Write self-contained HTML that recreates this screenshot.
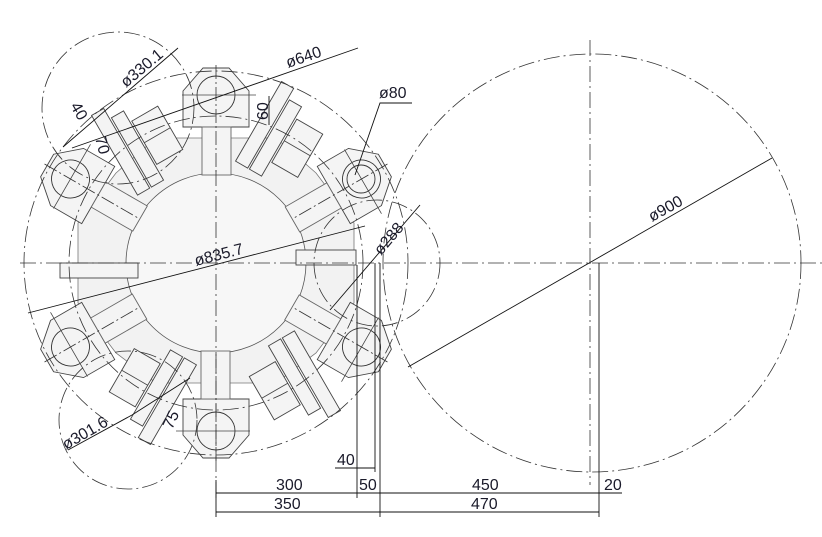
<!DOCTYPE html>
<html><head><meta charset="utf-8"><style>
html,body{margin:0;padding:0;background:#fff}
svg{display:block}
text{font-family:"Liberation Sans","DejaVu Sans",sans-serif;font-size:16px;fill:#1a1a2a}
</style></head><body>
<svg width="822" height="537" viewBox="0 0 822 537" xmlns="http://www.w3.org/2000/svg">
<defs>
<g id="st">
  <polygon points="-13,-195 13,-195 33,-172 33,-136 -33,-136 -33,-172" fill="#f4f4f4" stroke="#444" stroke-width="0.9"/>
  <rect x="-14" y="-136" width="29" height="48" fill="#f4f4f4" stroke="#666" stroke-width="0.9"/>
  <circle cx="0" cy="-168" r="19" fill="none" stroke="#333" stroke-width="0.9"/>
  <line x1="-34" y1="-168" x2="40" y2="-168" stroke="#444" stroke-width="0.8"/>
  <line x1="0" y1="-198" x2="0" y2="-88" stroke="#333" stroke-width="0.8" stroke-dasharray="14,3,2,3"/>
</g>
<g id="blk">
  <rect x="-34" y="-190" width="14" height="92" fill="#f4f4f4" stroke="#444" stroke-width="0.9"/>
  <rect x="-18" y="-178" width="14" height="80" fill="#f4f4f4" stroke="#444" stroke-width="0.9"/>
  <rect x="-2" y="-165" width="30" height="50" fill="#f4f4f4" stroke="#444" stroke-width="0.9"/>
  <line x1="-2" y1="-140" x2="28" y2="-140" stroke="#444" stroke-width="0.8"/>
</g>
</defs>
<g transform="translate(216,263)">
  <polygon points="-138,-40 -100,-90 -60,-125 60,-125 100,-90 138,-40 138,40 100,90 60,120 -60,120 -100,90 -138,40" fill="#f2f2f2" stroke="#777" stroke-width="0.8"/>
  <circle r="90" fill="#f7f7f7" stroke="#555" stroke-width="0.8"/>
</g>
<g fill="none">
<use href="#blk" transform="rotate(30 216 263) translate(216 263)"/>
<use href="#blk" transform="rotate(150 216 263) translate(216 263)"/>
<use href="#blk" transform="rotate(210 216 263) translate(216 263)"/>
<use href="#blk" transform="rotate(330 216 263) translate(216 263)"/>
<use href="#st" transform="translate(216 263)"/>
<use href="#st" transform="rotate(60 216 263) translate(216 263)"/>
<use href="#st" transform="rotate(120 216 263) translate(216 263)"/>
<use href="#st" transform="rotate(180 216 263) translate(216 263)"/>
<use href="#st" transform="rotate(240 216 263) translate(216 263)"/>
<use href="#st" transform="rotate(300 216 263) translate(216 263)"/>
</g>
<circle cx="361" cy="179" r="14" fill="none" stroke="#333" stroke-width="0.9"/>
<rect x="60" y="263" width="78" height="15" fill="#f4f4f4" stroke="#444" stroke-width="0.9"/>
<rect x="296" y="250" width="60" height="15" fill="#f4f4f4" stroke="#444" stroke-width="0.9"/>
<g fill="none" stroke="#333" stroke-width="0.8" stroke-dasharray="16,4,2,4">
  <circle cx="216" cy="263" r="192"/>
  <circle cx="216" cy="263" r="147"/>
  <circle cx="118" cy="108" r="76"/>
  <circle cx="128" cy="420" r="69"/>
  <circle cx="377" cy="263" r="63"/>
  <circle cx="592" cy="263" r="209"/>
  <line x1="20" y1="263" x2="822" y2="263"/>
  <line x1="590" y1="40" x2="590" y2="485"/>
  <line x1="216" y1="170" x2="216" y2="500"/>
</g>
<g stroke="#111" stroke-width="0.9" fill="none">
  <line x1="28" y1="313" x2="365" y2="226"/>
  <line x1="72" y1="148" x2="358" y2="48"/>
  <line x1="63" y1="147" x2="178" y2="48"/>
  <polyline points="355,175 380,103 412,103"/>
  <line x1="330" y1="310" x2="420" y2="205"/>
  <line x1="408" y1="367" x2="772" y2="158"/>
  <line x1="68" y1="450" x2="132" y2="415"/>
  <line x1="132" y1="415" x2="190" y2="378"/>
  <line x1="269" y1="96" x2="269" y2="125"/>
  <line x1="357" y1="265" x2="357" y2="498"/>
  <line x1="375" y1="263" x2="375" y2="472"/>
  <line x1="380" y1="263" x2="380" y2="517"/>
  <line x1="599" y1="263" x2="599" y2="517"/>
  <line x1="216" y1="480" x2="216" y2="517"/>
  <line x1="216" y1="493" x2="599" y2="493"/>
  <line x1="216" y1="512" x2="599" y2="512"/>
  <line x1="335" y1="468" x2="375" y2="468"/>
  <line x1="599" y1="493" x2="622" y2="493"/>
</g>
<text x="276" y="490">300</text>
<text x="274" y="509">350</text>
<text x="359" y="490">50</text>
<text x="472" y="490">450</text>
<text x="471" y="509">470</text>
<text x="604" y="490">20</text>
<text x="337" y="465">40</text>
<text x="379" y="98">ø80</text>
<text transform="translate(196,266) rotate(-14.5)">ø835.7</text>
<text transform="translate(288,68) rotate(-19)">ø640</text>
<text transform="translate(126,88) rotate(-40)">ø330.1</text>
<text transform="translate(381,256) rotate(-50)">ø288</text>
<text transform="translate(652,222) rotate(-29)">ø900</text>
<text transform="translate(66,450) rotate(-30)">ø301.6</text>
<text transform="translate(268,120) rotate(-90)">60</text>
<text transform="translate(70,106) rotate(60)">40</text>
<text transform="translate(95,138) rotate(75)">70</text>
<text transform="translate(172,430) rotate(-65)">75</text>
</svg>
</body></html>
